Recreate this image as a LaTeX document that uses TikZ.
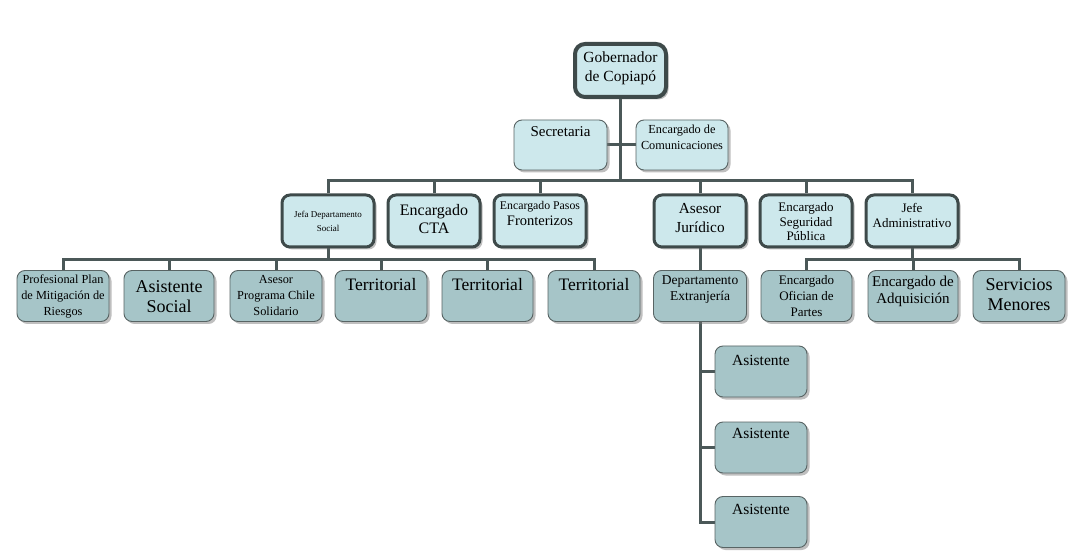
\documentclass[tikz,border=0pt]{standalone}
\usepackage{fontspec}
\setmainfont{Liberation Serif}
\usetikzlibrary{shadows,backgrounds}
\definecolor{lightfill}{RGB}{205,232,236}
\definecolor{darkfill}{RGB}{166,197,200}
\definecolor{bord}{RGB}{62,74,74}
\definecolor{thinbord}{RGB}{88,100,100}
\definecolor{connc}{RGB}{75,88,88}
\newcommand\myfs[2]{\fontsize{#1}{#2}\selectfont}
\tikzset{
  base/.style={rectangle, rounded corners=8pt, inner sep=0pt,
    drop shadow={shadow xshift=2.5pt, shadow yshift=-2.5pt, fill=black!55, opacity=0.45}},
  topbox/.style={base, rounded corners=10pt, draw=bord, line width=4pt, fill=lightfill},
  midbox/.style={base, draw=bord, line width=3pt, fill=lightfill},
  lightbox/.style={base, draw=thinbord, line width=0.9pt, fill=lightfill},
  darkbox/.style={base, draw=thinbord, line width=0.9pt, fill=darkfill},
  lbl/.style={align=center, inner sep=0pt, text=black},
  conn/.style={draw=connc, line width=3pt},
}
\begin{document}
\begin{tikzpicture}[x=1pt,y=-1pt]
\useasboundingbox (0,0) rectangle (1074,553);

% boxes
\node[topbox, minimum width=91pt, minimum height=53pt] (gob) at (620.5,70.5) {};
\node[lightbox, minimum width=93pt, minimum height=50pt] (sec) at (560.5,145) {};
\node[lightbox, minimum width=92pt, minimum height=50pt] (com) at (682,145) {};

\node[midbox, minimum width=92pt, minimum height=52pt] (jefa) at (328,221) {};
\node[midbox, minimum width=92pt, minimum height=52pt] (cta) at (434,221) {};
\node[midbox, minimum width=92pt, minimum height=52pt] (pasos) at (540,221) {};
\node[midbox, minimum width=92pt, minimum height=52pt] (aj) at (700,221) {};
\node[midbox, minimum width=92pt, minimum height=52pt] (seg) at (806,221) {};
\node[midbox, minimum width=92pt, minimum height=52pt] (jadm) at (912,221) {};

\node[darkbox, minimum width=92pt, minimum height=51pt] (prof) at (63,296) {};
\node[darkbox, minimum width=90pt, minimum height=51pt] (asoc) at (169,296) {};
\node[darkbox, minimum width=92pt, minimum height=51pt] (apcs) at (276,296) {};
\node[darkbox, minimum width=92pt, minimum height=51pt] (ter1) at (381,296) {};
\node[darkbox, minimum width=91pt, minimum height=51pt] (ter2) at (487.5,296) {};
\node[darkbox, minimum width=92pt, minimum height=51pt] (ter3) at (594,296) {};
\node[darkbox, minimum width=93pt, minimum height=51pt] (dext) at (700,296) {};
\node[darkbox, minimum width=91pt, minimum height=51pt] (ofic) at (806.5,296) {};
\node[darkbox, minimum width=90pt, minimum height=51pt] (adq) at (913,296) {};
\node[darkbox, minimum width=92pt, minimum height=51pt] (serv) at (1019,296) {};

\node[darkbox, minimum width=92pt, minimum height=51pt] (as1) at (761,371.5) {};
\node[darkbox, minimum width=92pt, minimum height=51pt] (as2) at (761,447.5) {};
\node[darkbox, minimum width=92pt, minimum height=51pt] (as3) at (761,522) {};

% connectors
\begin{scope}[on background layer]
\fill[white] (0,0) rectangle (1074,553);
\coordinate (b1) at (620.5,181);
\coordinate (b2) at (328,260);
\coordinate (b3) at (912,260);
\draw[conn] (gob.south) -- (gob.south |- b1);
\draw[conn] (sec.east) -- (com.west);
\draw[conn] (jefa.north) |- (b1) -| (jadm.north);
\foreach \n in {cta,pasos,aj,seg} \draw[conn] (\n.north) -- (\n.north |- b1);
\draw[conn] (jefa.south) -- (b2);
\draw[conn] (prof.north) |- (b2) -| (ter3.north);
\foreach \n in {asoc,apcs,ter1,ter2} \draw[conn] (\n.north) -- (\n.north |- b2);
\draw[conn] (aj.south) -- (dext.north);
\draw[conn] (jadm.south) -- (b3);
\draw[conn] (ofic.north) |- (b3) -| (serv.north);
\draw[conn] (adq.north) -- (adq.north |- b3);
\draw[conn] (dext.south) |- (as3.west);
\draw[conn] (as1.west) -- (as1.west -| dext.south);
\draw[conn] (as2.west) -- (as2.west -| dext.south);
\end{scope}

% texts
\node[lbl, font=\myfs{15.5}{19}] (gobt) at (620.5,68) {Gobernador\\de Copiapó};
\node[lbl, font=\myfs{15}{18}] (sect) at (560.5,132) {Secretaria};
\node[lbl, font=\myfs{12.3}{16}] (comt) at (682,137) {Encargado de\\Comunicaciones};

\node[lbl, font=\myfs{9}{14}] (jefat) at (328,221) {Jefa Departamento\\Social};
\node[lbl, font=\myfs{16}{18}] (ctat) at (434,219) {Encargado\\CTA};
\node[lbl, font=\myfs{11.8}{16}] (pasost) at (540,213) {Encargado Pasos\\{\myfs{14.5}{16}Fronterizos}};
\node[lbl, font=\myfs{15.3}{19}] (ajt) at (700,218.5) {Asesor\\Jurídico};
\node[lbl, font=\myfs{13}{14.5}] (segt) at (806,222) {Encargado\\Seguridad\\Pública};
\node[lbl, font=\myfs{13}{15}] (jadmt) at (912,215.5) {Jefe\\Administrativo};

\node[lbl, font=\myfs{12.3}{16}] (proft) at (63,296) {Profesional Plan\\de Mitigación de\\Riesgos};
\node[lbl, font=\myfs{18}{20}] (asoct) at (169,297) {Asistente\\Social};
\node[lbl, font=\myfs{12.3}{16}] (apcst) at (276,296) {Asesor\\Programa Chile\\Solidario};
\node[lbl, font=\myfs{17.5}{20}] (ter1t) at (381,285) {Territorial};
\node[lbl, font=\myfs{17.5}{20}] (ter2t) at (487.5,285) {Territorial};
\node[lbl, font=\myfs{17.5}{20}] (ter3t) at (594,285) {Territorial};
\node[lbl, font=\myfs{13.5}{16}] (dextt) at (700,290) {Departamento\\Extranjería};
\node[lbl, font=\myfs{13}{16}] (ofict) at (806.5,296) {Encargado\\Ofician de\\Partes};
\node[lbl, font=\myfs{15}{17}] (adqt) at (913,291.5) {Encargado de\\Adquisición};
\node[lbl, font=\myfs{18}{20}] (servt) at (1019,295) {Servicios\\Menores};

\node[lbl, font=\myfs{15.5}{18}] (as1t) at (761,360) {Asistente};
\node[lbl, font=\myfs{15.5}{18}] (as2t) at (761,433) {Asistente};
\node[lbl, font=\myfs{15.5}{18}] (as3t) at (761,509) {Asistente};
\end{tikzpicture}
\end{document}
